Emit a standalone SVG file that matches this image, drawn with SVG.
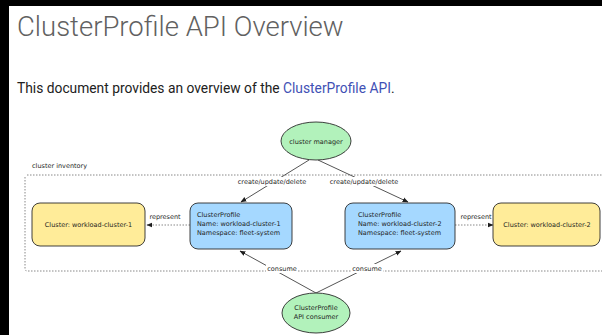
<svg xmlns="http://www.w3.org/2000/svg" width="602" height="335" viewBox="0 0 602 335">
<defs>
<marker id="ah" viewBox="0 0 10 10" refX="9" refY="5" markerWidth="6" markerHeight="6" orient="auto-start-reverse" markerUnits="userSpaceOnUse">
<path d="M0,1 L10,5 L0,9 z" fill="#1e1e1e"/>
</marker>
<style>
.hand{font-family:"DejaVu Sans","Liberation Sans",sans-serif;font-size:6.5px;fill:#1e1e1e}
.lbl{font-family:"DejaVu Sans","Liberation Sans",sans-serif;font-size:6.5px;fill:#1e1e1e;text-anchor:middle}
.green{fill:#b2f2bb;stroke:#2b2b2b;stroke-width:0.9}
.blue{fill:#a5d8ff;stroke:#2b2b2b;stroke-width:0.9}
.yellow{fill:#ffec99;stroke:#2b2b2b;stroke-width:0.9}
.conn{stroke:#555;stroke-width:1;fill:none}
.dash{stroke:#888;stroke-width:1;fill:none;stroke-dasharray:1.5 1.5}
.bg{fill:#fff}
</style>
</defs>
<rect x="0" y="0" width="602" height="335" fill="#fff"/>
<rect x="0" y="0" width="602" height="6" fill="#000"/>
<rect x="0" y="0" width="9" height="335" fill="#000"/>
<text x="17" y="36" font-family="Roboto, 'Liberation Sans', sans-serif" font-weight="300" font-size="27.5" fill="#616161">ClusterProfile API Overview</text>
<text x="17" y="93" font-family="Roboto, 'Liberation Sans', sans-serif" font-size="13.8" fill="#212121">This document provides an overview of the <tspan fill="#3f51b5">ClusterProfile API</tspan>.</text>

<g id="inventory">
<path class="dash" d="M27,175 L610,175 M25,177 L25,269 Q25,271 28,271 L610,271"/>
<text class="hand" x="32" y="168">cluster inventory</text>
</g>

<g id="connectors">
<line class="conn" x1="309" y1="160" x2="241" y2="202" marker-end="url(#ah)"/>
<line class="conn" x1="318" y1="160" x2="408" y2="202" marker-end="url(#ah)"/>
<line class="conn" x1="316" y1="293" x2="240" y2="251" marker-end="url(#ah)"/>
<line class="conn" x1="316" y1="293" x2="401" y2="251" marker-end="url(#ah)"/>
<line class="dash" x1="190" y1="225" x2="147" y2="225" marker-end="url(#ah)"/>
<line class="dash" x1="455" y1="225" x2="493" y2="225" marker-end="url(#ah)"/>
<rect class="bg" x="238" y="177" width="68" height="9"/>
<text class="lbl" x="272" y="184">create/update/delete</text>
<rect class="bg" x="330" y="177" width="68" height="9"/>
<text class="lbl" x="364" y="184">create/update/delete</text>
<rect class="bg" x="266" y="264" width="32" height="9"/>
<text class="lbl" x="282" y="271">consume</text>
<rect class="bg" x="351" y="264" width="32" height="9"/>
<text class="lbl" x="367" y="271">consume</text>
<rect class="bg" x="148" y="212" width="34" height="9"/>
<text class="lbl" x="165" y="219">represent</text>
<rect class="bg" x="459" y="212" width="34" height="9"/>
<text class="lbl" x="476" y="219">represent</text>
</g>

<g id="cluster-manager">
<ellipse class="green" cx="316" cy="141" rx="35" ry="19"/>
<text class="lbl" x="316" y="143.5">cluster manager</text>
</g>

<g id="workload-cluster-1">
<rect class="yellow" x="32" y="203" width="113" height="43" rx="8"/>
<text class="lbl" x="88.5" y="227">Cluster: workload-cluster-1</text>
</g>

<g id="clusterprofile-1">
<rect class="blue" x="190" y="203" width="102" height="46" rx="8"/>
<text class="hand" x="197" y="217">ClusterProfile</text>
<text class="hand" x="197" y="226">Name: workload-cluster-1</text>
<text class="hand" x="197" y="235">Namespace: fleet-system</text>
</g>

<g id="clusterprofile-2">
<rect class="blue" x="345" y="203" width="110" height="46" rx="8"/>
<text class="hand" x="358" y="217">ClusterProfile</text>
<text class="hand" x="358" y="226">Name: workload-cluster-2</text>
<text class="hand" x="358" y="235">Namespace: fleet-system</text>
</g>

<g id="workload-cluster-2">
<rect class="yellow" x="493" y="203" width="107" height="43" rx="8"/>
<text class="lbl" x="547" y="227">Cluster: workload-cluster-2</text>
</g>

<g id="api-consumer">
<ellipse class="green" cx="316" cy="313" rx="34" ry="20"/>
<text class="lbl" x="316" y="310">ClusterProfile</text>
<text class="lbl" x="316" y="319">API consumer</text>
</g>
</svg>
